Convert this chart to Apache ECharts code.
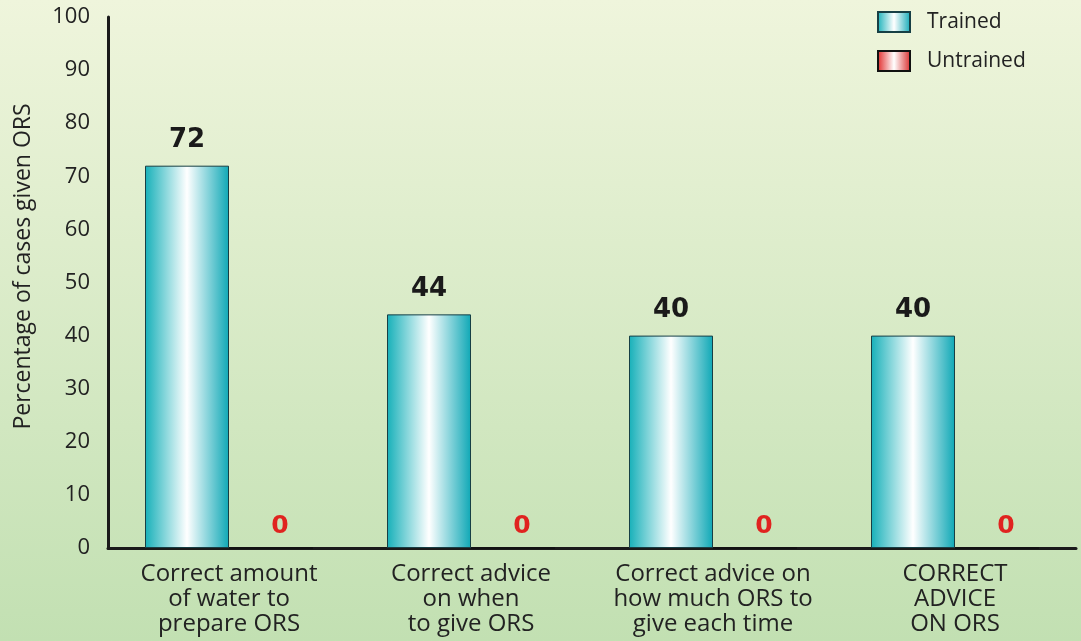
<!DOCTYPE html>
<html>
<head>
<meta charset="utf-8">
<script src="https://cdn.jsdelivr.net/npm/echarts@6/dist/echarts.min.js"></script>
<style>
  html, body { margin: 0; padding: 0; }
  #chart { width: 1081px; height: 641px; }
</style>
</head>
<body>
<div id="chart"></div>
<script>
// data
var categories = [
    'Correct amount\nof water to\nprepare ORS',
    'Correct advice\non when\nto give ORS',
    'Correct advice on\nhow much ORS to\ngive each time',
    'CORRECT\nADVICE\nON ORS'
];
var trained = [72, 44, 40, 40];
var untrained = [0, 0, 0, 0];
var yTicks = { min: 0, max: 100, step: 10 };

var font = '"Open Sans", Lato, sans-serif';

var myChart = echarts.init(document.getElementById('chart'));

var option = {
    backgroundColor: new echarts.graphic.LinearGradient(0, 0, 0, 1, [
        { offset: 0, color: '#eff5dc' },
        { offset: 1, color: '#c2e0b2' }
    ]),
    animation: false,
    grid: { left: 108, right: 5, top: 17, bottom: 93 },
    legend: {
        orient: 'vertical',
        left: 872,
        top: 6,
        itemWidth: 32,
        itemHeight: 20,
        itemGap: 17,
        icon: 'rect',
        textStyle: { fontFamily: font, fontSize: 21, color: '#222', padding: [0, 0, 0, 12] },
        data: ['Trained', 'Untrained']
    },
    xAxis: {
        type: 'category',
        data: categories,
        axisLine: { lineStyle: { color: '#1a1a1a', width: 3 } },
        axisTick: { show: false },
        axisLabel: {
            fontFamily: font,
            fontSize: 24,
            lineHeight: 25,
            color: '#222',
            margin: 14,
            interval: 0
        }
    },
    yAxis: {
        type: 'value',
        min: yTicks.min,
        max: yTicks.max,
        interval: yTicks.step,
        name: 'Percentage of cases given ORS',
        nameLocation: 'middle',
        nameGap: 73,
        nameTextStyle: { fontFamily: font, fontSize: 23, color: '#222', padding: [0, 0, 0, 32] },
        axisLine: { show: true, lineStyle: { color: '#1a1a1a', width: 3 } },
        axisTick: { show: false },
        splitLine: { show: false },
        axisLabel: { fontFamily: font, fontSize: 22, color: '#222', margin: 18 }
    },
    series: [
        {
            name: 'Trained',
            type: 'bar',
            data: trained,
            barWidth: 84,
            barGap: '0%',
            itemStyle: {
                color: new echarts.graphic.LinearGradient(0, 0, 1, 0, [
                    { offset: 0, color: '#16b0b9' },
                    { offset: 0.5, color: '#ffffff' },
                    { offset: 1, color: '#0fa8b6' }
                ]),
                borderColor: '#173f45',
                borderWidth: 1
            },
            label: {
                show: true,
                position: 'top',
                distance: 12,
                fontFamily: '"DejaVu Sans", Verdana, sans-serif',
                fontWeight: 'bold',
                fontSize: 26,
                color: '#1a1a1a'
            }
        },
        {
            name: 'Untrained',
            type: 'bar',
            data: untrained,
            barWidth: 84,
            itemStyle: {
                color: new echarts.graphic.LinearGradient(0, 0, 1, 0, [
                    { offset: 0, color: '#e02626' },
                    { offset: 0.5, color: '#ffffff' },
                    { offset: 1, color: '#d82a2a' }
                ]),
                borderColor: '#111',
                borderWidth: 1
            },
            label: {
                show: true,
                position: 'top',
                distance: 9,
                offset: [9, 0],
                fontFamily: '"DejaVu Sans", Verdana, sans-serif',
                fontWeight: 'bold',
                fontSize: 25,
                color: '#e0231f'
            }
        }
    ]
};

myChart.setOption(option);
</script>
</body>
</html>
